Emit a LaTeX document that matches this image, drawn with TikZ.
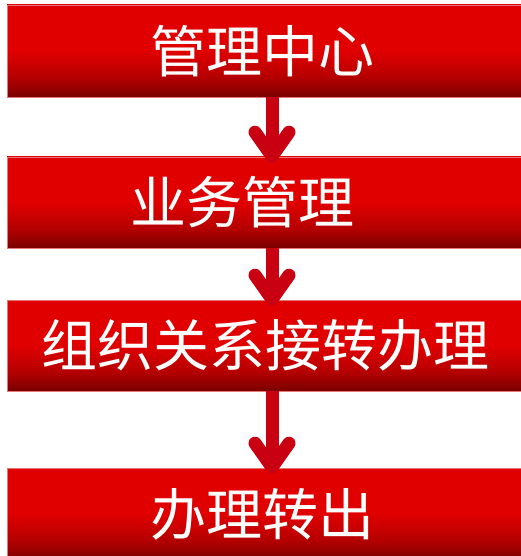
\documentclass[tikz,border=0pt]{standalone}
\usepackage{fontspec}
\newfontfamily\cjk{Noto Sans CJK SC}
\usetikzlibrary{arrows.meta}
\definecolor{barred}{RGB}{224,0,0}
\definecolor{barmid}{RGB}{182,0,0}
\definecolor{bardark}{RGB}{122,0,0}
\definecolor{arrowred}{RGB}{200,0,18}
\definecolor{barline}{RGB}{232,120,120}
\pgfdeclareverticalshading{barshade}{100bp}{color(0bp)=(bardark); color(25bp)=(bardark); color(36bp)=(barmid); color(50bp)=(barred); color(100bp)=(barred)}

\begin{document}
\begin{tikzpicture}[x=1pt, y=-1pt]
\tikzset{bar/.style={rectangle, shading=barshade, draw=barline, line width=.6pt, minimum width=522pt, inner sep=0pt},
 lab/.style={text=white, font=\cjk\fontsize{56pt}{60pt}\selectfont, inner sep=0pt},
 flow/.style={arrowred, line width=13pt, -{Straight Barb[length=24pt, width=34pt, round]}}}
\useasboundingbox (0,0) rectangle (521,556);
\node[bar, minimum height=92pt] (b1) at (268,51) {};
\node[bar, minimum height=91pt] (b2) at (268,202.5) {};
\node[bar, minimum height=91pt] (b3) at (268,345.5) {};
\node[bar, minimum height=92pt] (b4) at (268,514) {};
\foreach \a/\b in {b1/b2, b2/b3, b3/b4}
 \draw[flow] ([xshift=4pt]\a.south) -- ([xshift=4pt, yshift=-6pt]\b.north);
\node[lab] (t1) at (262,51) {管理中心};
\node[lab] (t2) at (242,202.5) {业务管理};
\node[lab] (t3) at (265,345.5) {组织关系接转办理};
\node[lab] (t4) at (262,514) {办理转出};
\end{tikzpicture}
\end{document}
